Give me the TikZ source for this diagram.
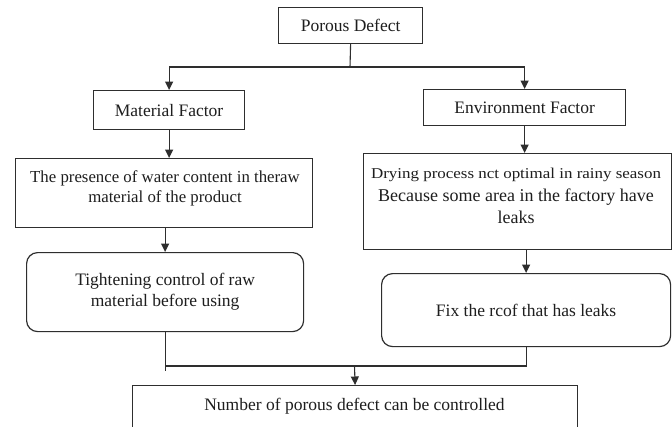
\documentclass[tikz,border=0pt]{standalone}
\usepackage{fontspec}
\setmainfont{Liberation Serif}
\usetikzlibrary{arrows.meta,calc}
\definecolor{ink}{HTML}{1E1E1E}
\definecolor{rule}{HTML}{2E2E2E}
\begin{document}
\begin{tikzpicture}[x=1pt,y=-1pt,
  box/.style={draw=rule,line width=1.2pt,inner sep=0pt,anchor=north west,
    text=ink,align=center,font=\fontsize{17.5}{21}\selectfont},
  rbox/.style={box,rounded corners=11pt},
  lbl/.style={text=ink,align=center,inner sep=0pt,font=\fontsize{17.5}{21}\selectfont},
  link/.style={draw=rule,line width=1.1pt},
  arr/.style={link,-{Triangle[width=8pt,length=8.5pt]}}]
\clip (0,0) rectangle (672,426);
\fill[white] (0,0) rectangle (672,426);

% boxes
\node[box,minimum width=144pt,minimum height=36pt] (pd) at (278,7) {Porous Defect};
\node[box,minimum width=151pt,minimum height=39pt] (mat) at (93,90) {Material Factor};
\node[box,minimum width=202pt,minimum height=36pt] (env) at (423,89) {Environment Factor};
\node[box,minimum width=297pt,minimum height=69pt] (pres) at (15,158) {};
\node[lbl,font=\fontsize{16.8}{20}\selectfont] (prest) at (165,188)
  {The presence of water content in theraw\\material of the product};
\node[box,minimum width=308pt,minimum height=96pt] (dry) at (363,153) {};
\node[lbl,font=\fontsize{18}{22.5}\selectfont] (dryt) at (516,196)
  {{\fontsize{15}{22.5}\selectfont\scalebox{1.13}[1]{Drying process nct optimal in rainy season}}\\
   Because some area in the factory have\\leaks};
\node[rbox,minimum width=277pt,minimum height=79pt] (tight) at (26,252)
  {Tightening control of raw\\material before using};
\node[rbox,minimum width=289pt,minimum height=73pt] (fix) at (381,273)
  {Fix the rcof that has leaks};
\node[box,minimum width=445pt,minimum height=60pt] (res) at (132,385) {};
\node[lbl] (rest) at (354.5,406) {Number of porous defect can be controlled};

% connectors
\coordinate (split) at (350,67);
\draw[link] (pd.south) -- (split);
\draw[arr] (split) -| (mat.north);
\draw[arr] (split) -| (env.north);
\draw[arr] (mat.south) -- (mat.south |- pres.north);
\draw[arr] (env.south) -- (env.south |- dry.north);
\draw[arr] (pres.south -| tight.north) -- (tight.north);
\draw[arr] (dry.south -| fix.north) -- (fix.north);
\coordinate (merge) at (354.5,366);
\draw[link] (tight.south) -- ++(0,39);
\draw[link] (tight.south |- merge) -- (fix.south |- merge) -- (fix.south);
\draw[arr] (merge) -- (res.north);
\end{tikzpicture}
\end{document}
